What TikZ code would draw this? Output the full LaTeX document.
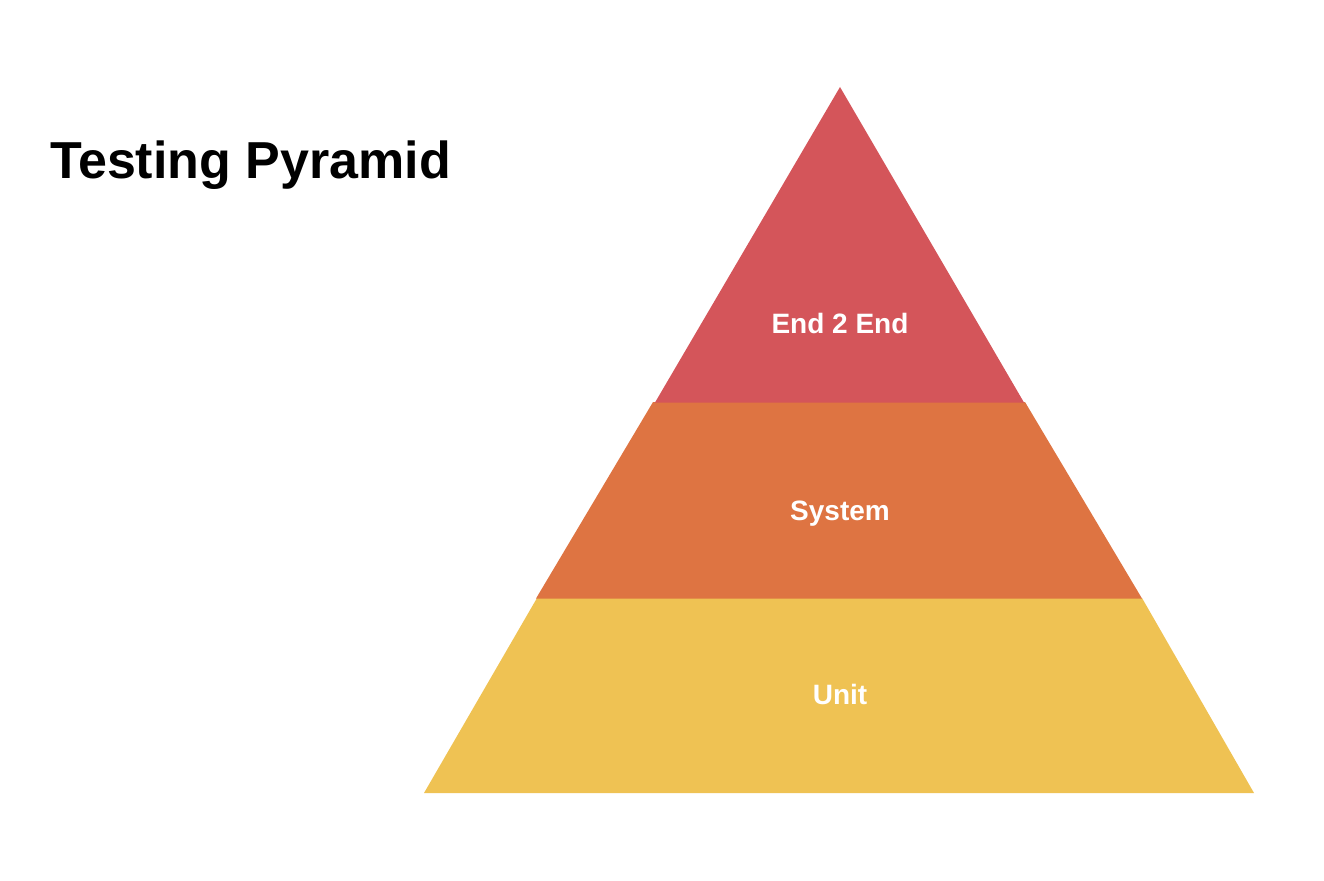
\documentclass[tikz,border=0pt]{standalone}
\usepackage{fontspec}
\setmainfont{Liberation Sans}
\definecolor{e2ered}{RGB}{212,85,90}
\definecolor{sysorange}{RGB}{222,116,66}
\definecolor{unityellow}{RGB}{239,194,83}
\begin{document}
\begin{tikzpicture}[x=1pt,y=-1pt,
  layerlabel/.style={text=white,font=\fontsize{28}{32}\selectfont\bfseries,inner sep=0pt,anchor=base},
  titlelabel/.style={text=black,font=\fontsize{52}{58}\selectfont\bfseries,inner sep=0pt,anchor=base west}]
\useasboundingbox (0,0) rectangle (1324,880);
\fill[unityellow] (537,598) -- (1142,598) -- (1254,793) -- (424,793) -- cycle;
\fill[sysorange] (653,402) -- (1025,402) -- (1142,598.5) -- (536,598.5) -- cycle;
\fill[e2ered] (840,87) -- (1024,402.5) -- (655,402.5) -- cycle;
\node[titlelabel] (title) at (50,178) {Testing Pyramid};
\node[layerlabel] (e2e) at (840,333) {End 2 End};
\node[layerlabel] (sys) at (840,520) {System};
\node[layerlabel] (unit) at (840,704) {Unit};
\end{tikzpicture}
\end{document}
